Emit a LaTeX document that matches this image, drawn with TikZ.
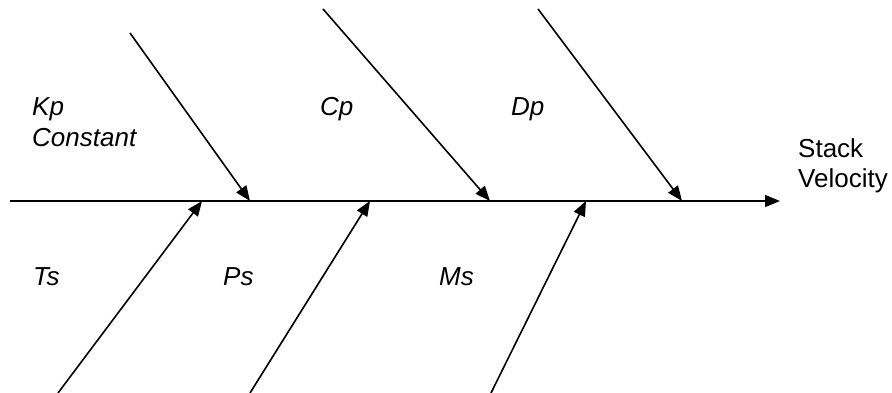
\documentclass[tikz,border=0pt]{standalone}
\usepackage{fontspec}
\setmainfont{Liberation Sans}
\usetikzlibrary{arrows.meta}

\tikzset{
  bone/.style={line width=1.6pt,-{Triangle[length=15pt,width=12pt]}},
  cause/.style={anchor=base west,inner sep=0pt,font=\fontsize{26}{31}\selectfont\itshape},
  effect/.style={anchor=base west,inner sep=0pt,font=\fontsize{26}{31}\selectfont,align=left}
}

\begin{document}
\begin{tikzpicture}[x=1pt,y=-1pt]
\useasboundingbox (0,0) rectangle (892,393);
% spine
\coordinate (tail) at (10,201);
\coordinate (head) at (780,201);
\draw[bone] (tail)--(head);
\node[effect] (vel) at (798,188) {Stack\\Velocity};
% upper causes
\coordinate (kp0) at (130,33);  \coordinate (kp1) at (250,201);
\coordinate (cp0) at (323,9);   \coordinate (cp1) at (490,201);
\coordinate (dp0) at (538,9);   \coordinate (dp1) at (682,201);
\draw[bone] (kp0)--(kp1);
\draw[bone] (cp0)--(cp1);
\draw[bone] (dp0)--(dp1);
% lower causes
\coordinate (ts0) at (58,393);  \coordinate (ts1) at (202,201);
\coordinate (ps0) at (250,393); \coordinate (ps1) at (370,201);
\coordinate (ms0) at (491,393); \coordinate (ms1) at (586,201);
\draw[bone] (ts0)--(ts1);
\draw[bone] (ps0)--(ps1);
\draw[bone] (ms0)--(ms1);
% labels
\node[cause] (kp) at (32,116) {Kp};
\node[cause] (const) at (32,147) {Constant};
\node[cause] (cp) at (320,116) {Cp};
\node[cause] (dp) at (511,116) {Dp};
\node[cause] (ts) at (33,285) {Ts};
\node[cause] (ps) at (223,285) {Ps};
\node[cause] (ms) at (439,285) {Ms};
\end{tikzpicture}
\end{document}
